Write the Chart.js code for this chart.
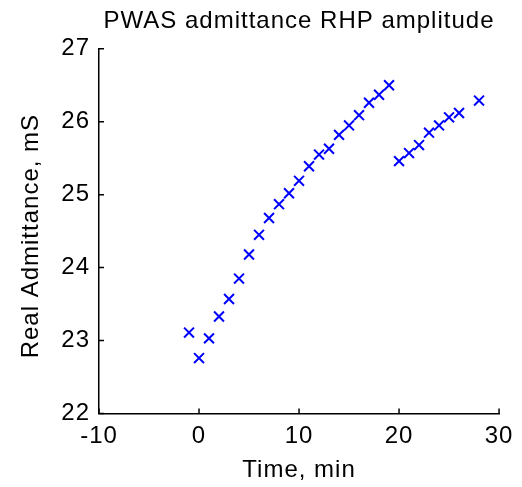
<!DOCTYPE html>
<html>
<head>
<meta charset="utf-8">
<script src="https://cdn.jsdelivr.net/npm/chart.js@4/dist/chart.umd.min.js"></script>
<style>
html,body{margin:0;padding:0;background:#fff;}
#wrap{width:522px;height:487px;}
</style>
</head>
<body>
<div id="wrap"><canvas id="c" width="522" height="487"></canvas></div>
<script>
const titleText = 'PWAS admittance RHP amplitude';
const xTitle = 'Time, min';
const yTitle = 'Real Admittance, mS';
const xTicks = [-10, 0, 10, 20, 30];
const yTicks = [22, 23, 24, 25, 26, 27];
const timeMin = [-1,0,1,2,3,4,5,6,7,8,9,10,11,12,13,14,15,16,17,18,19,20,21,22,23,24,25,26,28];
const admittance = [23.11,22.76,23.03,23.33,23.57,23.85,24.18,24.45,24.68,24.87,25.02,25.19,25.39,25.55,25.63,25.82,25.95,26.09,26.26,26.37,26.50,25.46,25.57,25.68,25.85,25.95,26.06,26.12,26.29];

const FONT = 'Arial, "Liberation Sans", Helvetica, sans-serif';
const FS = 24;

const textSpacing = {
  id: 'textSpacing',
  beforeLayout(chart) { chart.ctx.letterSpacing = '1px'; },
  beforeDraw(chart) {
    chart.ctx.letterSpacing = '1px';
    const ys = chart.scales.y;
    if (!ys._shiftedTitle) {
      const orig = ys.drawTitle;
      ys.drawTitle = function() {
        const ctx = this.ctx;
        ctx.save();
        ctx.translate(0, 5);
        orig.apply(this, arguments);
        ctx.restore();
      };
      ys._shiftedTitle = true;
    }
  }
};

const inwardTicks = {
  id: 'inwardTicks',
  afterDraw(chart) {
    const ctx = chart.ctx;
    const xs = chart.scales.x, ys = chart.scales.y;
    ctx.save();
    ctx.strokeStyle = '#000';
    ctx.lineWidth = 1.5;
    ctx.beginPath();
    xTicks.forEach(v => {
      const px = xs.getPixelForValue(v);
      ctx.moveTo(px, ys.bottom);
      ctx.lineTo(px, ys.bottom - 5);
    });
    yTicks.forEach(v => {
      const py = ys.getPixelForValue(v);
      ctx.moveTo(xs.left, py);
      ctx.lineTo(xs.left + 5, py);
    });
    ctx.stroke();
    ctx.restore();
  }
};

new Chart(document.getElementById('c'), {
  type: 'scatter',
  data: {
    datasets: [{
      data: timeMin.map((t, i) => ({x: t, y: admittance[i]})),
      pointStyle: 'crossRot',
      pointRadius: 7,
      pointBorderWidth: 2,
      borderColor: '#0000ff',
      backgroundColor: '#0000ff',
      showLine: false
    }]
  },
  options: {
    responsive: false,
    animation: false,
    devicePixelRatio: 1,
    layout: {padding: {left: 0, right: 21, top: 0, bottom: 0}},
    plugins: {
      legend: {display: false},
      tooltip: {enabled: false},
      title: {
        display: true,
        text: titleText,
        fullSize: false,
        color: '#000',
        font: {family: FONT, size: FS, weight: 'normal', lineHeight: 1.2},
        padding: {top: 7, bottom: 13}
      }
    },
    scales: {
      x: {
        type: 'linear',
        min: -10, max: 30,
        afterBuildTicks(s) { s.ticks = xTicks.map(v => ({value: v})); },
        afterFit(s) { s.height = 73.5; },
        grid: {display: false, drawTicks: false},
        border: {display: true, color: '#000', width: 1.5},
        ticks: {color: '#000', font: {family: FONT, size: FS}, padding: 8.6, maxRotation: 0},
        title: {display: true, text: xTitle, color: '#000', font: {family: FONT, size: FS, lineHeight: 1.2}, padding: {top: 0, bottom: 2.6}}
      },
      y: {
        type: 'linear',
        min: 22, max: 27,
        afterBuildTicks(s) { s.ticks = yTicks.map(v => ({value: v})); },
        afterFit(s) { s.width = 99; },
        grid: {display: false, drawTicks: false},
        border: {display: true, color: '#000', width: 1.5},
        ticks: {color: '#000', font: {family: FONT, size: FS}, padding: 9},
        title: {display: true, text: yTitle, color: '#000', font: {family: FONT, size: FS, lineHeight: 1.2}, padding: {top: 16.6, bottom: 0}}
      }
    }
  },
  plugins: [textSpacing, inwardTicks]
});
</script>
</body>
</html>
